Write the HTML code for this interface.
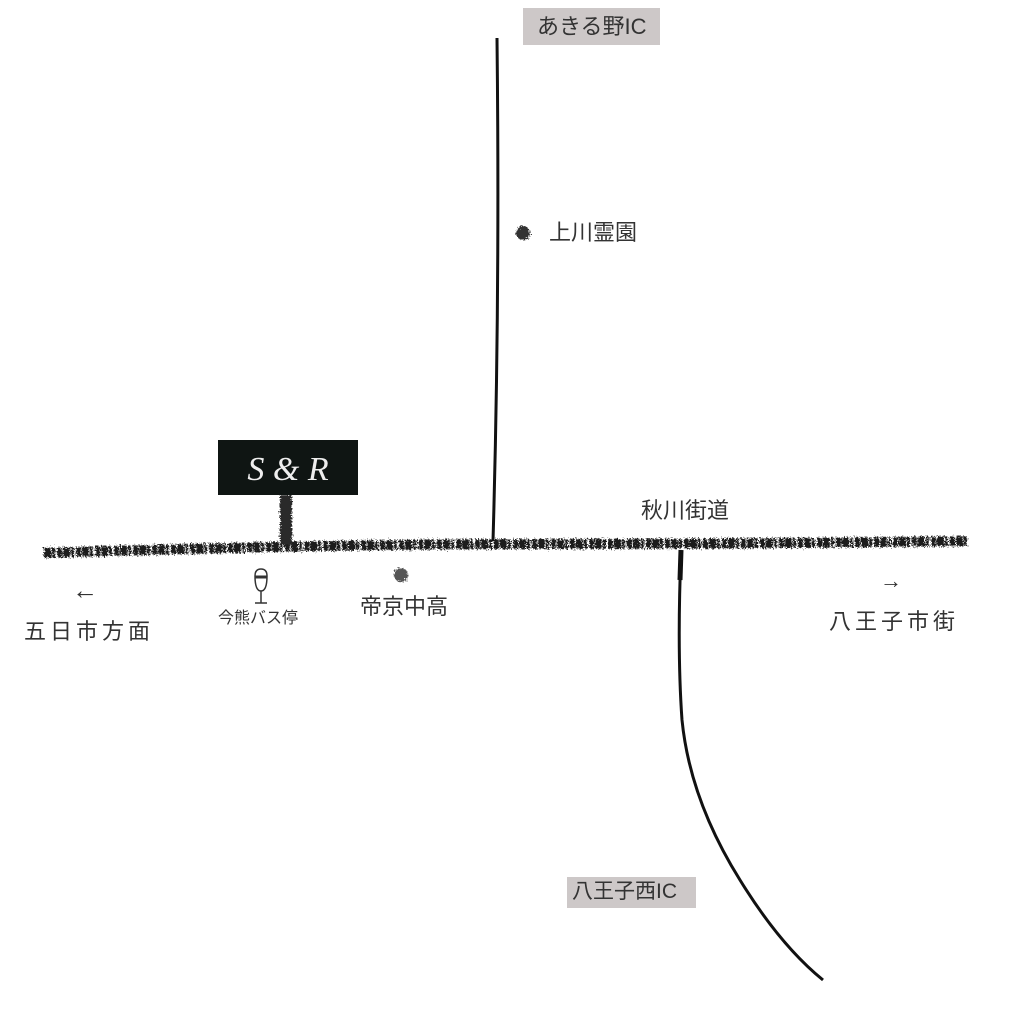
<!DOCTYPE html>
<html><head><meta charset="utf-8"><style>
body{margin:0;width:1024px;height:1024px;background:#fff;overflow:hidden;font-family:"Liberation Sans","Noto Sans CJK JP",sans-serif;color:#333}
svg{position:absolute;left:0;top:0}
.t{position:absolute;white-space:nowrap;line-height:1}
</style></head><body>
<svg width="1024" height="1024" viewBox="0 0 1024 1024">
<defs>
<filter id="rough" x="-5%" y="-50%" width="110%" height="200%">
<feTurbulence type="fractalNoise" baseFrequency="0.7" numOctaves="2" result="n"/>
<feDisplacementMap in="SourceGraphic" in2="n" scale="7"/>
</filter>
</defs>
<rect x="523" y="8" width="137" height="37" fill="#cdc8c8"/>
<rect x="567" y="877" width="129" height="31" fill="#cdc8c8"/>
<path d="M497 38 Q500 300 493 541" stroke="#111" stroke-width="3" fill="none"/>
<path d="M681 552 Q677 650 682 720 Q690 800 740 880 Q780 945 823 980" stroke="#111" stroke-width="3" fill="none"/>
<path d="M681 550 L680 580" stroke="#111" stroke-width="5"/>
<g filter="url(#rough)">
<path d="M44 553 Q300 545 500 544 Q750 544 968 541" stroke="#1a1a1a" stroke-width="10" stroke-dasharray="7 1 3 2 5 1" fill="none"/>
<rect x="280" y="495" width="12" height="50" fill="#2a2a2a"/>
<circle cx="523" cy="233" r="7" fill="#333"/>
<circle cx="401" cy="575" r="7" fill="#555"/>
</g>
<rect x="218" y="440" width="140" height="55" fill="#0f1513"/>
<text x="288" y="480" text-anchor="middle" fill="#eee" font-family="Liberation Serif,serif" font-style="italic" font-size="34">S &amp; R</text>
<g stroke="#333" stroke-width="1.5" fill="none">
<path d="M255 576 Q255 591 261 591 Q267 591 267 576 Q267 569 261 569 Q255 569 255 576Z"/>
<line x1="255" y1="577" x2="267" y2="577" stroke-width="3"/>
<line x1="261" y1="591" x2="261" y2="603"/>
<line x1="255" y1="603" x2="267" y2="603"/>
</g>
</svg>
<div class="t" style="left:537px;top:16px;font-size:22px">あきる野IC</div>
<div class="t" style="left:572px;top:881px;font-size:21px">八王子西IC</div>
<div class="t" style="left:549px;top:222px;font-size:22px">上川霊園</div>
<div class="t" style="left:641px;top:500px;font-size:22px">秋川街道</div>
<div class="t" style="left:360px;top:596px;font-size:22px">帝京中高</div>
<div class="t" style="left:218px;top:611px;font-size:16px">今熊バス停</div>
<div class="t" style="left:24px;top:621px;font-size:22px;letter-spacing:4px">五日市方面</div>
<div class="t" style="left:829px;top:611px;font-size:22px;letter-spacing:4px">八王子市街</div>
<div class="t" style="left:72px;top:577px;font-size:26px">←</div>
<div class="t" style="left:880px;top:570px;font-size:22px">→</div>
</body></html>
